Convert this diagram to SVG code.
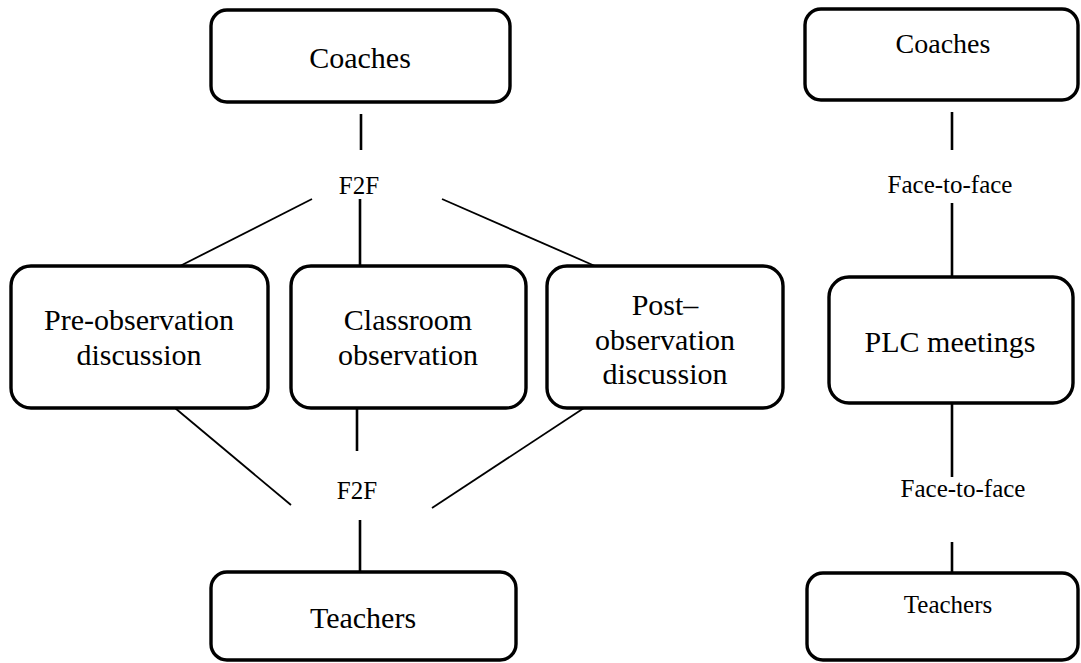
<svg xmlns="http://www.w3.org/2000/svg" width="1081" height="663" viewBox="0 0 1081 663" font-family="Liberation Serif, Times New Roman, serif">
  <style>
    .box { fill: #ffffff; stroke: #000000; stroke-width: 3.4; }
    text { font-family: "Liberation Serif", "Times New Roman", serif; fill: #000000; text-anchor: middle; }
    .big { font-size: 30px; }
    .mid { font-size: 28px; }
    .small { font-size: 25px; }
    .vline { stroke: #000000; stroke-width: 2.6; fill: none; }
    .dline { stroke: #000000; stroke-width: 1.8; fill: none; }
  </style>
  <rect width="1081" height="663" fill="#ffffff"/>

  <!-- connectors -->
  <g id="connectors">
    <!-- coaching cycle -->
    <line class="vline" x1="361" y1="114" x2="361" y2="150"/>
    <line class="dline" x1="312" y1="199" x2="180" y2="266"/>
    <line class="vline" x1="360" y1="199" x2="360" y2="266"/>
    <line class="dline" x1="442" y1="199" x2="595" y2="266"/>
    <line class="dline" x1="175" y1="408" x2="291" y2="505"/>
    <line class="vline" x1="357" y1="383" x2="357" y2="451"/>
    <line class="dline" x1="584" y1="408" x2="432" y2="508"/>
    <line class="vline" x1="360" y1="520" x2="360" y2="572"/>
    <!-- PLC strand -->
    <line class="vline" x1="952" y1="112" x2="952" y2="150"/>
    <line class="vline" x1="952" y1="203" x2="952" y2="277"/>
    <line class="vline" x1="952" y1="403" x2="952" y2="477"/>
    <line class="vline" x1="952" y1="542" x2="952" y2="573"/>
  </g>

  <!-- edge labels -->
  <g id="labels">
    <text class="small" x="359" y="194">F2F</text>
    <text class="small" x="357" y="499">F2F</text>
    <text class="small" x="950" y="193">Face-to-face</text>
    <text class="small" x="963" y="497">Face-to-face</text>
  </g>

  <g id="coaches-left">
    <rect class="box" x="211" y="10" width="299" height="92" rx="16"/>
    <text class="big" x="360" y="68">Coaches</text>
  </g>

  <g id="pre-observation">
    <rect class="box" x="11" y="266" width="257" height="142" rx="20"/>
    <text class="big" x="139" y="330">Pre-observation</text>
    <text class="big" x="139" y="365">discussion</text>
  </g>

  <g id="classroom-observation">
    <rect class="box" x="291" y="266" width="235" height="142" rx="20"/>
    <text class="big" x="408" y="330">Classroom</text>
    <text class="big" x="408" y="365">observation</text>
  </g>

  <g id="post-observation">
    <rect class="box" x="547" y="266" width="236" height="142" rx="20"/>
    <text class="big" x="665" y="315">Post–</text>
    <text class="big" x="665" y="350">observation</text>
    <text class="big" x="665" y="384">discussion</text>
  </g>

  <g id="teachers-left">
    <rect class="box" x="211" y="572" width="305" height="88" rx="16"/>
    <text class="big" x="363" y="628">Teachers</text>
  </g>

  <g id="coaches-right">
    <rect class="box" x="805" y="9" width="273" height="91" rx="16"/>
    <text class="mid" x="943" y="53">Coaches</text>
  </g>

  <g id="plc-meetings">
    <rect class="box" x="829" y="277" width="244" height="126" rx="20"/>
    <text class="big" x="950" y="352">PLC meetings</text>
  </g>

  <g id="teachers-right">
    <rect class="box" x="807" y="573" width="271" height="87" rx="16"/>
    <text class="small" x="948" y="613">Teachers</text>
  </g>
</svg>
